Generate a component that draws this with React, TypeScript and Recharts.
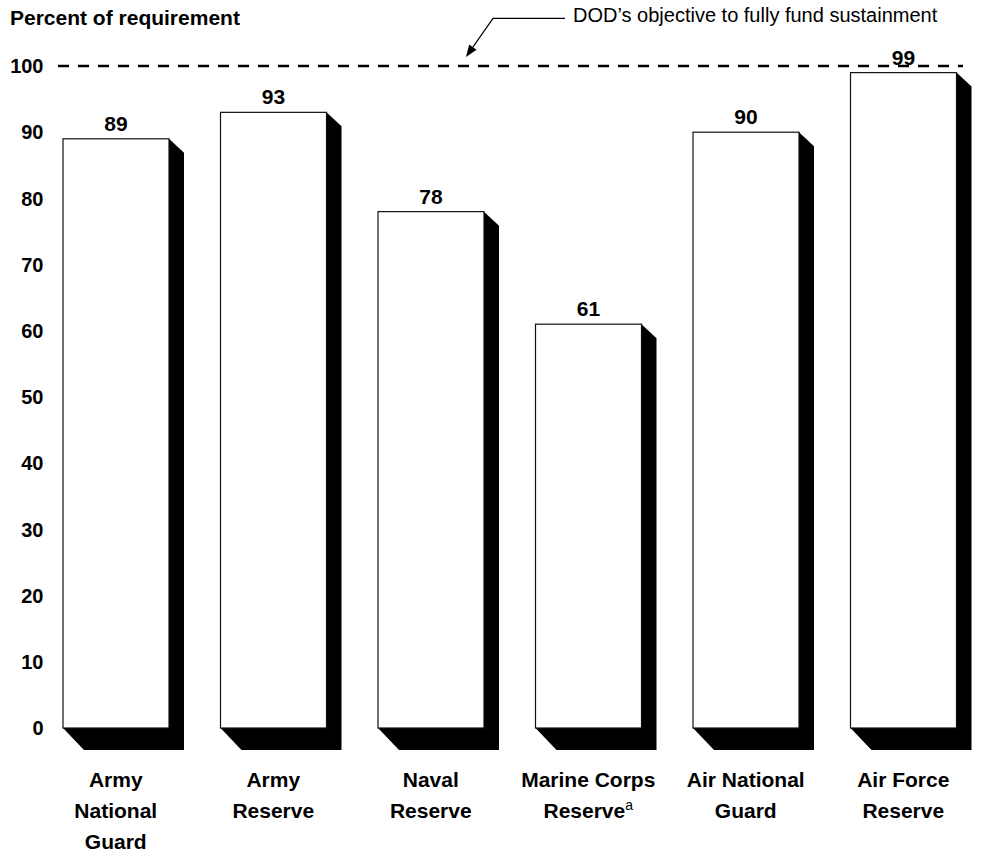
import React from 'react';
import { BarChart, Bar, XAxis, YAxis, LabelList, ReferenceLine } from 'recharts';

const services = [
    'Army National Guard',
    'Army Reserve',
    'Naval Reserve',
    'Marine Corps Reserve',
    'Air National Guard',
    'Air Force Reserve',
];
const labelLines = [
    ['Army', 'National', 'Guard'],
    ['Army', 'Reserve'],
    ['Naval', 'Reserve'],
    ['Marine Corps', 'Reserve'],
    ['Air National', 'Guard'],
    ['Air Force', 'Reserve'],
];
const notes = ['', '', '', 'a', '', ''];
const percentFunded = [89, 93, 78, 61, 90, 99];
const yTicks = [0, 10, 20, 30, 40, 50, 60, 70, 80, 90, 100];
const objective = 100;

const data = services.map((name, i) => ({ name, value: percentFunded[i] }));

const FONT = '"Liberation Sans", Arial, Helvetica, sans-serif';

function ShadowBar(props: any) {
    const { x, y, width, height } = props;
    const dxTop = 15;
    const dyTop = 14;
    const dxBottom = 21;
    const dyBottom = 22;
    const shadow = [
        [x + width, y],
        [x + width + dxTop, y + dyTop],
        [x + width + dxTop, y + height + dyBottom],
        [x + dxBottom, y + height + dyBottom],
        [x, y + height],
    ]
        .map((p) => p.join(','))
        .join(' ');
    return (
        <g>
            <polygon points={shadow} fill="#000" />
            <rect x={x} y={y} width={width} height={height} fill="#fff" stroke="#111" strokeWidth={1.2} />
        </g>
    );
}

function YTick(props: any) {
    const { y, payload } = props;
    return (
        <text x={43.5} y={y} dy="0.355em" textAnchor="end" fontFamily={FONT} fontWeight="bold" fontSize={20} fill="#000">
            {payload.value}
        </text>
    );
}

function XTick(props: any) {
    const { x, y, payload } = props;
    const i = services.indexOf(payload.value);
    const lines = labelLines[i] || [];
    return (
        <g>
            {lines.map((line, k) => (
                <text
                    key={k}
                    x={x}
                    y={y + 59 + k * 31}
                    textAnchor="middle"
                    fontFamily={FONT}
                    fontWeight="bold"
                    fontSize={21}
                    fill="#000"
                >
                    {line}
                    {k === lines.length - 1 && notes[i] ? (
                        <tspan dy={-8} fontSize={14} fontWeight="normal">
                            {notes[i]}
                        </tspan>
                    ) : null}
                </text>
            ))}
        </g>
    );
}

function DashedObjective(props: any) {
    const { x1, x2, y1 } = props;
    return <line x1={x1 + 21} x2={x2 - 19} y1={y1} y2={y1} stroke="#000" strokeWidth={2.4} strokeDasharray="11 9" />;
}

function Annotations() {
    const tip = [466, 57];
    const elbow = [493, 18.3];
    const vx = tip[0] - elbow[0];
    const vy = tip[1] - elbow[1];
    const len = Math.sqrt(vx * vx + vy * vy);
    const ux = vx / len;
    const uy = vy / len;
    const bx = tip[0] - ux * 12;
    const by = tip[1] - uy * 12;
    const head = `${tip[0]},${tip[1]} ${bx + uy * 4.5},${by - ux * 4.5} ${bx - uy * 4.5},${by + ux * 4.5}`;
    return (
        <svg width={988} height={853} style={{ position: 'absolute', left: 0, top: 0, pointerEvents: 'none' }}>
            <text x={10} y={25} fontFamily={FONT} fontWeight="bold" fontSize={21} fill="#000">
                Percent of requirement
            </text>
            <text x={573} y={21.5} fontFamily={FONT} fontSize={20} fill="#000">
                DOD’s objective to fully fund sustainment
            </text>
            <polyline points={`565,18.3 ${elbow[0]},${elbow[1]} ${bx},${by}`} fill="none" stroke="#000" strokeWidth={1.2} />
            <polygon points={head} fill="#000" />
        </svg>
    );
}

export default function App() {
    return (
        <div style={{ position: 'absolute', left: 0, top: 0, width: 988, height: 853, overflow: 'hidden', background: '#fff' }}>
            <BarChart
                width={988}
                height={853}
                data={data}
                margin={{ top: 66, right: 6, left: 0, bottom: 5 }}
                barSize={106}
            >
                <XAxis
                    dataKey="name"
                    axisLine={false}
                    tickLine={false}
                    tickSize={0}
                    tickMargin={0}
                    height={120}
                    interval={0}
                    tick={<XTick />}
                />
                <YAxis
                    domain={[0, 100]}
                    ticks={yTicks}
                    axisLine={false}
                    tickLine={false}
                    width={37}
                    interval={0}
                    tick={<YTick />}
                />
                <ReferenceLine y={objective} shape={(p: any) => <DashedObjective {...p} />} />
                <Bar dataKey="value" shape={(p: any) => <ShadowBar {...p} />} isAnimationActive={false}>
                    <LabelList
                        dataKey="value"
                        position="top"
                        offset={8}
                        fontFamily={FONT}
                        fontWeight="bold"
                        fontSize={21}
                        fill="#000"
                    />
                </Bar>
            </BarChart>
            <Annotations />
        </div>
    );
}
